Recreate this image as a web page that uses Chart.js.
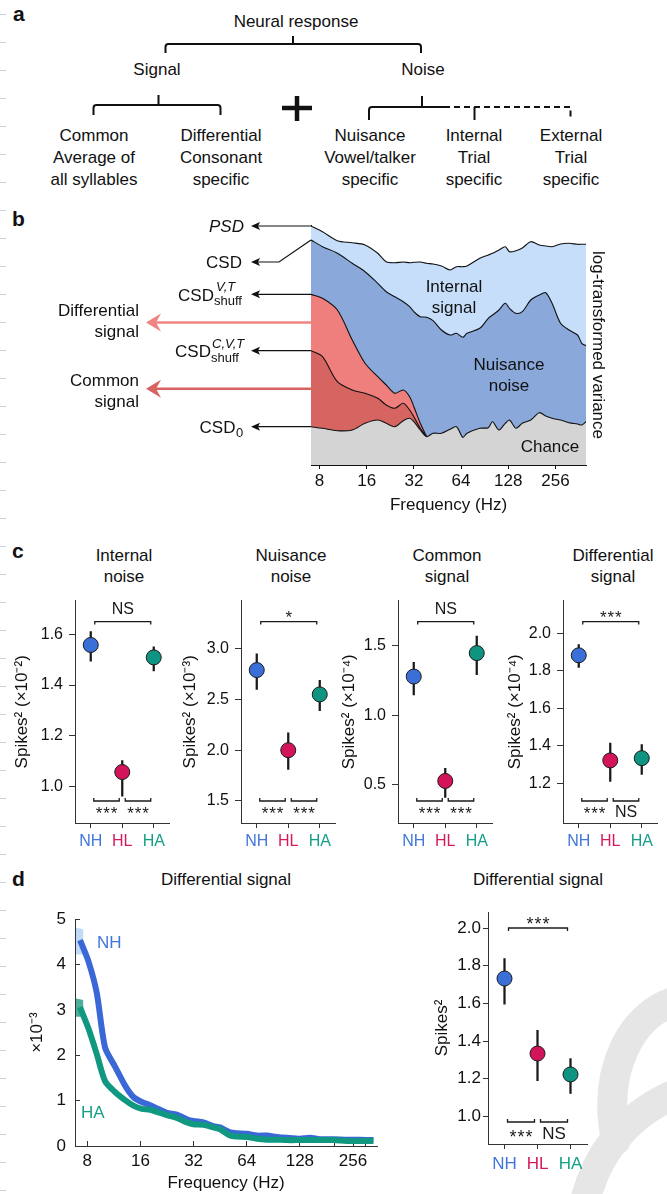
<!DOCTYPE html>
<html>
<head>
<meta charset="utf-8">
<script src="https://cdn.jsdelivr.net/npm/chart.js@4.4.1/dist/chart.umd.min.js"></script>
<style>
body { margin: 0; background: #fff; }
#page { position: relative; width: 667px; height: 1194px; overflow: hidden; font-family: "Liberation Sans", Arial, Helvetica, sans-serif; color: #111; }
.ct { position: absolute; width: 220px; margin-left: -110px; text-align: center; font-size: 17px; line-height: 22px; white-space: nowrap; }
.rt { position: absolute; text-align: right; font-size: 17px; line-height: 21px; white-space: nowrap; }
.lt { position: absolute; text-align: left; font-size: 17px; line-height: 21px; white-space: nowrap; }
.sm { font-size: 13px; line-height: 14px; }
.letter { position: absolute; font-weight: bold; font-size: 21px; line-height: 21px; }
canvas { position: absolute; }
.margin { position: absolute; left: 0; top: 0; width: 6px; height: 1194px;
  background: repeating-linear-gradient(to bottom, transparent 0 14px, #cdd0e2 14px 15px, transparent 15px 28px); }
</style>
</head>
<body>
<div id="page">
  <div class="margin"></div>
  <!-- publisher watermark, behind everything -->
  <svg width="667" height="1194" style="position:absolute;left:0;top:0">
    <g fill="none" stroke="#e6e6e6" stroke-width="30" stroke-linecap="round">
      <path d="M582,1215 C592,1160 622,1115 680,1092"/>
      <path d="M616,1140 C602,1072 630,1012 680,1000"/>
    </g>
  </svg>

  <!-- a: schema -->
  <div class="letter" style="left:13px;top:3px">a</div>
  <div class="ct" style="left:296px;top:11px">Neural response</div>
  <div class="ct" style="left:157px;top:59px">Signal</div>
  <div class="ct" style="left:423px;top:59px">Noise</div>
  <div class="ct" style="left:94px;top:125px">Common<br>Average of<br>all syllables</div>
  <div class="ct" style="left:221px;top:125px">Differential<br>Consonant<br>specific</div>
  <div class="ct" style="left:370px;top:125px">Nuisance<br>Vowel/talker<br>specific</div>
  <div class="ct" style="left:474px;top:125px">Internal<br>Trial<br>specific</div>
  <div class="ct" style="left:571px;top:125px">External<br>Trial<br>specific</div>
  <svg width="667" height="200" style="position:absolute;left:0;top:0">
    <g fill="none" stroke="#111" stroke-width="2">
      <path d="M165.5,53 V47 Q165.5,44 168.5,44 H418 Q421,44 421,47 V53 M293,44 V36"/>
      <path d="M93.5,115 V108 Q93.5,105 96.5,105 H217.5 Q220.5,105 220.5,108 V115 M158.5,105 V95"/>
      <path d="M369,120 V110 Q369,107 372,107 H444 M422,107 V96 M474.5,107 V120"/>
      <path d="M444,107 H570.5 V117" stroke-dasharray="6,4"/>
    </g>
    <path d="M282,108 H312 M297,96 V121" stroke="#111" stroke-width="4.5"/>
  </svg>

  <!-- b: variance decomposition -->
  <div class="letter" style="left:12px;top:208px">b</div>
  <canvas id="bArea" width="620" height="315" style="left:0;top:205px"></canvas>
  <div class="rt" style="right:423px;top:215.5px"><i>PSD</i></div>
  <div class="rt" style="right:425px;top:251.5px">CSD</div>
  <div class="rt" style="right:453px;top:284.5px">CSD</div>
  <div class="lt sm" style="left:216px;top:280px"><i>V,T</i></div>
  <div class="lt sm" style="left:214px;top:294px">shuff</div>
  <div class="rt" style="right:456px;top:340.5px">CSD</div>
  <div class="lt sm" style="left:212px;top:337px"><i>C,V,T</i></div>
  <div class="lt sm" style="left:211px;top:350.5px">shuff</div>
  <div class="rt" style="right:431.5px;top:416.5px">CSD</div>
  <div class="lt sm" style="left:236px;top:426px">0</div>
  <div class="rt" style="right:528px;top:299.5px">Differential<br>signal</div>
  <div class="rt" style="right:528px;top:369.5px">Common<br>signal</div>
  <div class="ct" style="left:454px;top:276px;line-height:21px">Internal<br>signal</div>
  <div class="ct" style="left:509px;top:353.5px;line-height:21px">Nuisance<br>noise</div>
  <div class="ct" style="left:550px;top:436px">Chance</div>

  <!-- c: group comparisons -->
  <div class="letter" style="left:12px;top:540px">c</div>
  <div class="ct" style="left:124px;top:545px;line-height:21px">Internal<br>noise</div>
  <div class="ct" style="left:291px;top:545px;line-height:21px">Nuisance<br>noise</div>
  <div class="ct" style="left:447px;top:545px;line-height:21px">Common<br>signal</div>
  <div class="ct" style="left:613px;top:545px;line-height:21px">Differential<br>signal</div>
  <canvas id="c1" width="178" height="270" style="left:0;top:585px"></canvas>
  <canvas id="c2" width="178" height="270" style="left:166px;top:585px"></canvas>
  <canvas id="c3" width="178" height="270" style="left:323px;top:585px"></canvas>
  <canvas id="c4" width="178" height="270" style="left:488px;top:585px"></canvas>

  <!-- d: differential signal -->
  <div class="letter" style="left:12px;top:868px">d</div>
  <div class="ct" style="left:226px;top:869px">Differential signal</div>
  <div class="ct" style="left:538px;top:869px">Differential signal</div>
  <canvas id="dLine" width="390" height="299" style="left:0;top:895px"></canvas>
  <canvas id="dDots" width="200" height="299" style="left:400px;top:895px"></canvas>
  <div class="lt" style="left:97px;top:932px;color:#4176dc">NH</div>
  <div class="lt" style="left:81px;top:1102px;color:#14a088">HA</div>
</div>

<script>
// ---- b: variance layers (log-transformed variance, arbitrary units) ----
const bFreq = [7.06, 8.36, 10.4, 12.94, 15.61, 18.82, 21.32, 24.16, 27.37, 30.06, 32, 35.14, 38.6, 42.4, 48.0, 54.4, 59.8, 65.6, 69.8, 84.2, 95.5, 101.6, 111.6, 122.5, 130.4, 143.2, 157.3, 178.2, 202, 221.8, 243.6, 276, 312.6, 354, 377, 401];
const bPSD = [239, 233.3, 224.3, 222.3, 220, 211.7, 203.3, 202.3, 203, 202.3, 202.7, 203, 201.7, 201, 199, 195, 198.3, 198.3, 199, 206.7, 210, 211.7, 215, 218.3, 213.3, 214.3, 217, 223.3, 220, 219, 218.3, 221, 221.7, 220.7, 220.7, 220.7];
const bCSD = [225, 218.3, 211.7, 201.7, 193.3, 181.7, 173.3, 168.3, 163.3, 158.3, 153.3, 148.3, 147.7, 144.3, 135, 130, 131.7, 127.7, 131.7, 136.7, 146.7, 150, 155, 161.7, 156.7, 151.7, 153.3, 165, 170, 172.3, 161.7, 141.7, 135, 130, 121.7, 119.3];
const bShuffVT = [170.7, 166.7, 155, 125, 101.7, 88.3, 80, 71.7, 75, 68.3, 58.3, 41.7, 28.3];
const bShuffCVT = [114.3, 108.3, 83.3, 75, 71.7, 66.7, 60, 56.7, 61.7, 55, 48.3, 36.7, 28.3];
const bChance = [38.3, 36.7, 34.3, 35, 41.7, 45, 41.7, 38.3, 44.3, 46.7, 43.3, 35, 28.3, 31.7, 31.7, 35.7, 38.3, 27.7, 31.7, 36.7, 37.3, 43.3, 35, 41.7, 45, 36.7, 41.7, 45, 52.3, 49, 46.7, 45, 42.3, 41, 40, 43.3];
const bTicks = [8, 16, 32, 64, 128, 256];

// ---- c / d: group means with error bars ----
const groups = ['NH', 'HL', 'HA'];
const pointColors = ['#3a6fd8', '#d3135a', '#0e9480'];
const labelColors = ['#4176dc', '#d6195e', '#14a088'];

const internalMean = [1.558, 1.057, 1.509];   // x10^-2
const internalLo = [1.494, 0.962, 1.456];
const internalHi = [1.611, 1.102, 1.551];
const nuisanceMean = [2.79, 2.00, 2.55];      // x10^-3
const nuisanceLo = [2.60, 1.81, 2.39];
const nuisanceHi = [2.95, 2.17, 2.69];
const commonMean = [1.278, 0.526, 1.447];     // x10^-4
const commonLo = [1.145, 0.408, 1.292];
const commonHi = [1.381, 0.616, 1.570];
const diffMean = [1.883, 1.322, 1.334];       // x10^-4
const diffLo = [1.818, 1.210, 1.247];
const diffHi = [1.940, 1.414, 1.407];
const diffAllMean = [1.732, 1.334, 1.223];
const diffAllLo = [1.596, 1.190, 1.122];
const diffAllHi = [1.838, 1.457, 1.307];

// ---- d: differential signal spectrum (x10^-3) ----
const dFreq = [7.27, 8.1, 9.04, 10.08, 11.48, 13.09, 14.58, 16.27, 18.13, 20.66, 22.55, 25.7, 29.3, 31.9, 36.4, 41.4, 45.2, 51.5, 56.2, 64.1, 73.0, 83.2, 94.8, 108, 128, 146, 166, 198, 236, 281, 334];
const dNH = [4.54, 4.08, 3.38, 2.17, 1.75, 1.33, 1.08, 0.97, 0.90, 0.80, 0.73, 0.69, 0.59, 0.55, 0.52, 0.44, 0.41, 0.30, 0.28, 0.27, 0.23, 0.23, 0.20, 0.18, 0.16, 0.18, 0.15, 0.15, 0.14, 0.14, 0.13];
const dHA = [3.06, 2.60, 2.03, 1.43, 1.19, 1.01, 0.89, 0.82, 0.80, 0.73, 0.68, 0.62, 0.52, 0.48, 0.47, 0.41, 0.37, 0.23, 0.21, 0.20, 0.16, 0.14, 0.14, 0.13, 0.13, 0.13, 0.13, 0.13, 0.11, 0.11, 0.11];
const dBandFreq = [6.9, 7.6];
const dNHHi = [4.81, 4.78];
const dNHLo = [4.22, 4.22];
const dHAHi = [3.25, 3.22];
const dHALo = [2.85, 2.85];
const dTicks = [8, 16, 32, 64, 128, 200, 256, 300];
const dTickLabels = [8, 16, 32, 64, 128, 256];

const FONT = '"Liberation Sans", Arial, Helvetica, sans-serif';
Chart.defaults.font.family = FONT;
Chart.defaults.color = '#111';
Chart.defaults.animation = false;
Chart.defaults.responsive = false;
Chart.defaults.devicePixelRatio = 1;
Chart.defaults.plugins.legend.display = false;
Chart.defaults.plugins.tooltip.enabled = false;

const pts = (xs, ys) => ys.map((y, i) => ({x: xs[i], y: y}));

// arrows to the left of panel b, anchored on the first value of each curve
const bArrows = {
    id: 'bArrows',
    afterDraw(chart) {
        const {ctx, chartArea: ca, scales: {y}} = chart;
        const ds = chart.data.datasets;
        const yOf = k => y.getPixelForValue(ds[k].data[0].y);
        const tip = ca.left - 60;
        ctx.save();
        ctx.strokeStyle = '#111';
        ctx.fillStyle = '#111';
        ctx.lineWidth = 1.2;
        const head = (yy) => {
            ctx.beginPath();
            ctx.moveTo(tip, yy);
            ctx.lineTo(tip + 9, yy - 4);
            ctx.lineTo(tip + 7, yy);
            ctx.lineTo(tip + 9, yy + 4);
            ctx.closePath();
            ctx.fill();
        };
        [4, 2, 1, 0].forEach(k => {
            const yy = yOf(k);
            ctx.beginPath(); ctx.moveTo(ca.left, yy); ctx.lineTo(tip + 4, yy); ctx.stroke();
            head(yy);
        });
        // CSD: kinked pointer
        const yc = yOf(3), yl = yc + 22;
        ctx.beginPath(); ctx.moveTo(ca.left, yc); ctx.lineTo(ca.left - 32, yl); ctx.lineTo(tip + 4, yl); ctx.stroke();
        head(yl);
        // signal arrows
        const big = (yy, col) => {
            const t = ca.left - 165;
            ctx.strokeStyle = col; ctx.fillStyle = col; ctx.lineWidth = 2.6;
            ctx.beginPath(); ctx.moveTo(ca.left, yy); ctx.lineTo(t + 8, yy); ctx.stroke();
            ctx.beginPath();
            ctx.moveTo(t, yy); ctx.lineTo(t + 15, yy - 9); ctx.lineTo(t + 10, yy); ctx.lineTo(t + 15, yy + 9);
            ctx.closePath(); ctx.fill();
        };
        big((yOf(2) + yOf(1)) / 2, '#ef8482');
        big((yOf(1) + yOf(0)) / 2, '#d8625f');
        ctx.restore();
    }
};

new Chart(document.getElementById('bArea'), {
    type: 'line',
    data: {
        datasets: [
            {data: pts(bFreq, bChance), fill: 'origin', backgroundColor: '#d4d4d4'},
            {data: pts(bFreq, bShuffCVT), fill: 'origin', backgroundColor: '#d66562'},
            {data: pts(bFreq, bShuffVT), fill: 'origin', backgroundColor: '#ef7f7c'},
            {data: pts(bFreq, bCSD), fill: 'origin', backgroundColor: '#8ba8db'},
            {data: pts(bFreq, bPSD), fill: 'origin', backgroundColor: '#c6defa'}
        ].map(d => Object.assign(d, {borderColor: '#111', borderWidth: 1.1, pointRadius: 0, tension: 0.3}))
    },
    options: {
        layout: {padding: {left: 311, right: 0, top: 20, bottom: 0}},
        scales: {
            x: {
                type: 'logarithmic', min: 7.06, max: 401,
                afterBuildTicks: a => { a.ticks = bTicks.map(v => ({value: v})); },
                afterFit: a => { a.height = 55; },
                ticks: {callback: v => String(v), autoSkip: false, maxRotation: 0, padding: 2, font: {size: 17}},
                grid: {drawOnChartArea: false, tickLength: 4, color: '#111'},
                border: {color: '#111'},
                title: {display: true, text: 'Frequency (Hz)', font: {size: 17}, padding: {top: 0, bottom: 4}}
            },
            y: {
                min: 0, max: 240,
                ticks: {display: false}, grid: {display: false}, border: {color: '#111'},
                afterFit: a => { a.width = 0; }
            },
            y2: {
                position: 'right',
                ticks: {display: false}, grid: {display: false}, border: {display: false},
                title: {display: true, text: 'log-transformed variance', font: {size: 17}, padding: {top: 12, bottom: 0}},
                afterFit: a => { a.width = 34; }
            }
        }
    },
    plugins: [bArrows]
});

// significance brackets above and below the groups
const sigPlugin = {
    id: 'sig',
    afterDatasetsDraw(chart, args, o) {
        const {ctx, chartArea: ca, scales: {x}} = chart;
        const px = i => x.getPixelForValue(i);
        ctx.save();
        ctx.strokeStyle = '#1a1a1a';
        ctx.fillStyle = '#1a1a1a';
        ctx.lineWidth = 1.3;
        ctx.textAlign = 'center';
        ctx.font = o.font + 'px ' + FONT;
        const mark = (text, cx, cy) => {
            if (text[0] === '*') {
                ctx.font = (o.font + 1) + 'px ' + FONT;
                ctx.textBaseline = 'alphabetic';
                for (let i = 0; i < text.length; i++) {
                    ctx.fillText('*', cx + (i - (text.length - 1) / 2) * o.starGap, cy + (o.font + 1) * 0.58);
                }
            } else {
                ctx.font = o.font + 'px ' + FONT;
                ctx.textBaseline = 'middle';
                ctx.fillText(text, cx, cy + 1);
            }
        };
        const yt = ca.top + o.topDy;
        const a = px(o.top.from) + 4, b = px(o.top.to) - 3;
        ctx.beginPath(); ctx.moveTo(a, yt + 3); ctx.lineTo(a, yt); ctx.lineTo(b, yt); ctx.lineTo(b, yt + 3); ctx.stroke();
        mark(o.top.text, (a + b) / 2, yt - (o.top.text[0] === '*' ? o.starUp : o.nsUp));
        const yb = ca.bottom - o.bottomDy;
        o.bottom.forEach(s => {
            const l = px(s.from) + 3, r = px(s.to) - 3;
            ctx.beginPath(); ctx.moveTo(l, yb - 3); ctx.lineTo(l, yb); ctx.lineTo(r, yb); ctx.lineTo(r, yb - 3); ctx.stroke();
            mark(s.text, (l + r) / 2, yb + (s.text[0] === '*' ? o.starDown : o.nsDown));
        });
        ctx.restore();
    }
};

function dotChart(id, s) {
    return new Chart(document.getElementById(id), {
        type: 'bar',
        data: {
            labels: groups,
            datasets: [
                {type: 'line', data: s.mean, showLine: false, pointRadius: 7.5, pointBackgroundColor: pointColors,
                 pointBorderColor: '#1a1a1a', pointBorderWidth: 1, order: 0},
                {type: 'bar', data: s.lo.map((v, i) => [v, s.hi[i]]), backgroundColor: '#1a1a1a', barThickness: 1.6, order: 1}
            ]
        },
        options: {
            layout: {padding: s.pad},
            scales: {
                x: {
                    offset: true,
                    grid: {drawOnChartArea: false, offset: false, tickLength: 5, color: '#333'},
                    border: {color: '#333'},
                    ticks: {color: c => labelColors[c.index], font: {size: s.font}, padding: s.xPad},
                    afterFit: a => { a.height = s.xH; }
                },
                y: {
                    min: s.min, max: s.max,
                    afterBuildTicks: a => { a.ticks = s.ticks.map(v => ({value: v})); },
                    grid: {drawOnChartArea: false, tickLength: s.yTick, color: '#333'},
                    border: {color: '#333'},
                    ticks: {callback: v => v.toFixed(1), font: {size: s.font}, padding: s.yPad},
                    title: {display: true, text: s.yTitle, font: {size: 17}, padding: {top: s.titlePad, bottom: 0}},
                    afterFit: a => { a.width = s.yW; }
                }
            },
            plugins: {sig: s.sig}
        },
        plugins: [sigPlugin]
    });
}

const cBase = {pad: {left: 0, right: 3, top: 7, bottom: 0}, font: 16, xPad: 4, xH: 32, yTick: 6, yPad: 6, yW: 75};
const cSig = (top, bot2) => ({font: 16, starGap: 7.5, topDy: 21, starUp: 8, nsUp: 13, bottomDy: 22, starDown: 8, nsDown: 11,
    top: {from: 0, to: 2, text: top}, bottom: [{from: 0, to: 1, text: '***'}, {from: 1, to: 2, text: bot2}]});

dotChart('c1', Object.assign({}, cBase, {mean: internalMean, lo: internalLo, hi: internalHi, min: 0.856, max: 1.733,
    ticks: [1.0, 1.2, 1.4, 1.6], yTitle: 'Spikes² (×10⁻²)', titlePad: 12.5, sig: cSig('NS', '***')}));
dotChart('c2', Object.assign({}, cBase, {mean: nuisanceMean, lo: nuisanceLo, hi: nuisanceHi, min: 1.282, max: 3.475,
    ticks: [1.5, 2.0, 2.5, 3.0], yTitle: 'Spikes² (×10⁻³)', titlePad: 14.5, sig: cSig('*', '***')}));
dotChart('c3', Object.assign({}, cBase, {mean: commonMean, lo: commonLo, hi: commonHi, min: 0.223, max: 1.825,
    ticks: [0.5, 1.0, 1.5], yTitle: 'Spikes² (×10⁻⁴)', titlePad: 16.5, sig: cSig('NS', '***')}));
dotChart('c4', Object.assign({}, cBase, {mean: diffMean, lo: diffLo, hi: diffHi, min: 0.988, max: 2.175,
    ticks: [1.2, 1.4, 1.6, 1.8, 2.0], yTitle: 'Spikes² (×10⁻⁴)', titlePad: 17.5, sig: cSig('***', 'NS')}));

dotChart('dDots', {mean: diffAllMean, lo: diffAllLo, hi: diffAllHi, min: 0.854, max: 2.085,
    ticks: [1.0, 1.2, 1.4, 1.6, 1.8, 2.0], yTitle: 'Spikes²', titlePad: 32.5,
    pad: {left: 0, right: 13, top: 17, bottom: 0}, font: 17, xPad: 5, xH: 50, yTick: 5, yPad: 2, yW: 88,
    sig: {font: 17, starGap: 8, topDy: 16, starUp: 8, nsUp: 13, bottomDy: 22, starDown: 11, nsDown: 11,
          top: {from: 0, to: 2, text: '***'}, bottom: [{from: 0, to: 1, text: '***'}, {from: 1, to: 2, text: 'NS'}]}});

// d: spectrum of the differential signal
new Chart(document.getElementById('dLine'), {
    type: 'line',
    data: {
        datasets: [
            {data: pts(dFreq, dHA), borderColor: '#119881', borderWidth: 6, pointRadius: 0, tension: 0.25, order: 0},
            {data: pts(dFreq, dNH), borderColor: '#3a68d6', borderWidth: 6, pointRadius: 0, tension: 0.25, order: 1},
            {data: pts(dBandFreq, dNHHi), borderWidth: 0, pointRadius: 0, order: 3},
            {data: pts(dBandFreq, dNHLo), borderWidth: 0, pointRadius: 0, fill: '-1', backgroundColor: '#c3daf6', order: 3},
            {data: pts(dBandFreq, dHAHi), borderWidth: 0, pointRadius: 0, order: 2},
            {data: pts(dBandFreq, dHALo), borderWidth: 0, pointRadius: 0, fill: '-1', backgroundColor: '#4fae98', order: 2}
        ]
    },
    options: {
        layout: {padding: {left: 0, right: 13, top: 15, bottom: 0}},
        scales: {
            x: {
                type: 'logarithmic', min: 6.81, max: 350,
                afterBuildTicks: a => { a.ticks = dTicks.map(v => ({value: v})); },
                afterFit: a => { a.height = 48; },
                ticks: {callback: v => dTickLabels.includes(v) ? String(v) : '', autoSkip: false, maxRotation: 0, padding: 10, font: {size: 17}},
                grid: {drawOnChartArea: false, tickLength: -5, color: '#333'},
                border: {color: '#333'},
                title: {display: true, text: 'Frequency (Hz)', font: {size: 17}, padding: {top: 0, bottom: 0}}
            },
            y: {
                min: 0, max: 5,
                ticks: {stepSize: 1, font: {size: 17}, padding: 14},
                grid: {drawOnChartArea: false, tickLength: -5, color: '#333'},
                border: {color: '#333'},
                title: {display: true, text: '×10⁻³', font: {size: 17}, padding: {top: 27, bottom: 0}},
                afterFit: a => { a.width = 75; }
            }
        }
    }
});
</script>
</body>
</html>
